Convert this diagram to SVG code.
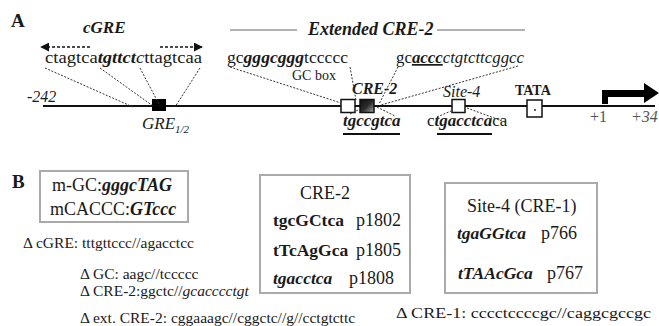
<svg xmlns="http://www.w3.org/2000/svg" width="659" height="326" viewBox="0 0 659 326">
  <defs>
    <linearGradient id="creFill" x1="0" y1="0" x2="1" y2="1">
      <stop offset="0" stop-color="#111"/>
      <stop offset="0.5" stop-color="#2a2a2a"/>
      <stop offset="1" stop-color="#a8a8a8"/>
    </linearGradient>
    <marker id="head" viewBox="0 0 10 10" refX="9" refY="5" markerWidth="9" markerHeight="9" markerUnits="userSpaceOnUse" orient="auto">
      <path d="M0,0 L10,5 L0,10 Z" fill="#111"/>
    </marker>
  </defs>
  <style>
    text { font-family: "Liberation Serif", "Times New Roman", serif; fill: #1a1a1a; }
    .seq { font-size: 17px; }
    .bi { font-weight: bold; font-style: italic; }
    .it { font-style: italic; }
    .b { font-weight: bold; }
    .dot { stroke: #333; stroke-width: 1; stroke-dasharray: 2 1.5; fill: none; }
    .dash { stroke: #111; stroke-width: 1.6; stroke-dasharray: 3 2; fill: none; }
    .site { fill: #fff; stroke: #111; stroke-width: 1.5; }
    .panel { fill: #fff; stroke: #aaa; stroke-width: 2; }
    .del { font-size: 15.5px; }
    .bx { font-size: 18px; }
    .mut { font-size: 17.5px; }
    .num { font-size: 16px; fill: #555; }
  </style>

  <!-- panel letters -->
  <text x="11" y="27" font-size="19" class="b">A</text>
  <text x="12" y="188" font-size="19" class="b">B</text>

  <!-- promoter line and coordinates -->
  <g id="promoter">
    <line x1="43" y1="106" x2="655" y2="106" stroke="#111" stroke-width="2"/>
    <text x="27" y="102" font-size="16" class="it">-242</text>
    <text x="590" y="122" class="num">+1</text>
    <text x="631" y="122" class="num it">+34</text>
    <path d="M602,104 L602,90 L644,90 L644,83 L659,93 L644,103 L644,97 L608,97 L608,104 Z" fill="#000"/>
  </g>

  <!-- cGRE -->
  <g id="cgre">
    <text x="83" y="33" font-size="17" class="bi">cGRE</text>
    <line x1="90" y1="47" x2="41" y2="47" class="dash" marker-end="url(#head)"/>
    <line x1="160" y1="47" x2="202" y2="47" class="dash" marker-end="url(#head)"/>
    <text x="45" y="63" class="seq" textLength="157" lengthAdjust="spacingAndGlyphs">ctagtca<tspan class="bi">tgttct</tspan><tspan class="it">c</tspan>ttagtcaa</text>
  </g>
  <g id="gre-half">
    <rect x="152" y="99" width="14" height="12" fill="#000"/>
    <text x="142" y="129" font-size="17" class="it">GRE<tspan font-size="11" dy="4">1/2</tspan></text>
  </g>

  <!-- extended CRE-2 -->
  <g id="ext-cre2">
    <line x1="230" y1="30" x2="297" y2="30" stroke="#999" stroke-width="1.5"/>
    <text x="308" y="35" font-size="18" class="bi">Extended CRE-2</text>
    <line x1="437" y1="30" x2="525" y2="30" stroke="#999" stroke-width="1.5"/>
    <text x="227" y="63" class="seq" textLength="121" lengthAdjust="spacingAndGlyphs">gc<tspan class="bi">gggcggg</tspan>tccccc</text>
    <text x="396" y="63" class="seq" textLength="128" lengthAdjust="spacingAndGlyphs">gc<tspan class="bi" text-decoration="underline">accc</tspan><tspan class="it">ctgtcttcggcc</tspan></text>
  </g>
  <g id="gc-box">
    <rect x="341" y="99.5" width="14" height="13" class="site"/>
    <text x="292" y="80" font-size="14">GC box</text>
  </g>
  <g id="cre2">
    <rect x="360" y="99.5" width="14" height="13" fill="url(#creFill)" stroke="#111" stroke-width="1.5"/>
    <text x="352" y="94" font-size="16" class="bi">CRE-2</text>
    <text x="343" y="126" font-size="17" class="bi">tgccgtca</text>
    <line x1="343" y1="134" x2="400" y2="134" stroke="#111" stroke-width="2"/>
  </g>
  <g id="site4">
    <rect x="452" y="99.5" width="13" height="13" class="site"/>
    <text x="443" y="97" font-size="16" class="it">Site-4</text>
    <text x="427" y="126" font-size="17">c<tspan class="bi">tgacctca</tspan>ca</text>
    <line x1="437" y1="134" x2="492" y2="134" stroke="#111" stroke-width="2"/>
  </g>
  <g id="tata">
    <rect x="527" y="100" width="15" height="17" class="site"/>
    <circle cx="535" cy="110" r="0.9" fill="#111"/>
    <text x="515" y="95" font-size="14" class="b">TATA</text>
  </g>

  <!-- dotted leaders from sequences to sites -->
  <g id="connectors">
    <line x1="45" y1="68" x2="133" y2="107" class="dot"/>
    <line x1="100" y1="68" x2="153" y2="106" class="dot"/>
    <line x1="140" y1="68" x2="160" y2="106" class="dot"/>
    <line x1="200" y1="68" x2="175" y2="107" class="dot"/>
    <line x1="230" y1="67" x2="341" y2="103" class="dot"/>
    <line x1="350" y1="67" x2="356" y2="100" class="dot"/>
    <line x1="398" y1="67" x2="379" y2="104" class="dot"/>
    <line x1="518" y1="66" x2="381" y2="105" class="dot"/>
    <line x1="350" y1="114" x2="358" y2="110" class="dot"/>
    <line x1="377" y1="107" x2="395" y2="116" class="dot"/>
    <line x1="437" y1="117" x2="451" y2="111" class="dot"/>
    <line x1="467" y1="108" x2="505" y2="122" class="dot"/>
  </g>

  <!-- B: mutant key -->
  <g id="mut-key">
    <rect x="40" y="171" width="148" height="51" class="panel"/>
    <text x="52" y="191" class="bx">m-GC:<tspan class="bi">gggcTAG</tspan></text>
    <text x="50" y="215" class="bx">mCACCC:<tspan class="bi">GTccc</tspan></text>
  </g>
  <g id="deletions">
    <text x="23" y="248" class="del">Δ cGRE: tttgttccc//agacctcc</text>
    <text x="80" y="279" class="del">Δ GC: aagc//tccccc</text>
    <text x="80" y="296" class="del">Δ CRE-2:ggctc//<tspan class="it">gcacccctgt</tspan></text>
    <text x="80" y="323" class="del">Δ ext. CRE-2: cggaaagc//cggctc//g//cctgtcttc</text>
    <text x="396" y="318" class="del" textLength="255" lengthAdjust="spacingAndGlyphs">Δ CRE-1: cccctccccgc//caggcgccgc</text>
  </g>
  <g id="cre2-mutants">
    <rect x="260" y="175" width="150" height="118" class="panel"/>
    <text x="300" y="199" class="bx">CRE-2</text>
    <text x="273" y="226" class="mut b">tgcGCtca</text>
    <text x="356" y="226" class="bx">p1802</text>
    <text x="273" y="256" class="mut b">tTcAgGca</text>
    <text x="356" y="256" class="bx">p1805</text>
    <text x="273" y="284" class="mut bi">tgacctca</text>
    <text x="349" y="284" class="bx">p1808</text>
  </g>
  <g id="site4-mutants">
    <rect x="445" y="183" width="152" height="110" class="panel"/>
    <text x="467" y="212" class="bx">Site-4 (CRE-1)</text>
    <text x="457" y="239" class="mut bi">tgaGGtca</text>
    <text x="541" y="239" class="bx">p766</text>
    <text x="458" y="279" class="mut bi">tTAAcGca</text>
    <text x="547" y="279" class="bx">p767</text>
  </g>
</svg>
